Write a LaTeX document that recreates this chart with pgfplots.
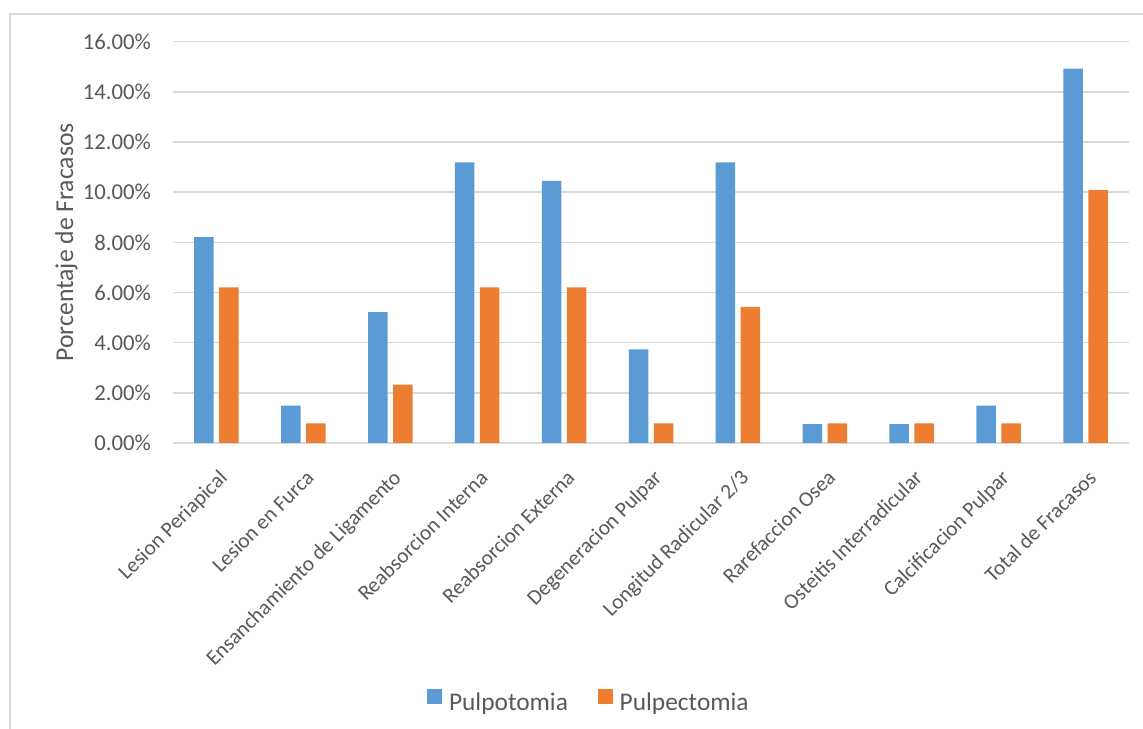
\documentclass[border=0pt]{standalone}
\usepackage{fontspec}
\setmainfont{Carlito}
\usepackage{pgfplots}
\pgfplotsset{compat=1.18}
\definecolor{serA}{HTML}{5B9BD5}
\definecolor{serB}{HTML}{ED7D31}
\definecolor{gridc}{HTML}{D9D9D9}
\definecolor{txt}{HTML}{595959}
\begin{document}
\begin{tikzpicture}
\useasboundingbox (0bp,0bp) rectangle (1143bp,729bp);
\fill[white] (0bp,0bp) rectangle (1143bp,729bp);
\draw[gridc, line width=1.2bp] (10bp,0bp) -- (10bp,715bp) -- (1143bp,715bp);
\begin{axis}[
    at={(173bp,286bp)}, anchor=south west,
    scale only axis, width=956bp, height=401.3bp,
    ybar=5.5bp, bar width=19.5bp,
    xmin=0, xmax=11, ymin=0, ymax=16,
    xtick={0.5,1.5,...,10.5},
    xticklabels={Lesion Periapical, Lesion en Furca, Ensanchamiento de Ligamento,
      Reabsorcion Interna, Reabsorcion Externa, Degeneracion Pulpar,
      Longitud Radicular 2/3, Rarefaccion Osea, Osteitis Interradicular,
      Calcificacion Pulpar, Total de Fracasos},
    ytick={0,2,...,16},
    yticklabel={\pgfmathprintnumber[fixed,fixed zerofill,precision=2]{\tick}\%},
    /pgf/number format/assume math mode=true,
    major tick length=0pt,
    axis line style={draw=none},
    ymajorgrids, grid style={gridc, line width=1.5bp},
    ticklabel style={text=txt},
    yticklabel style={font=\fontsize{22.7bp}{27bp}\selectfont, anchor=east, inner sep=0pt, xshift=-22bp},
    xticklabel style={font=\fontsize{21.3bp}{25bp}\selectfont, rotate=45, anchor=north east,
      inner sep=0pt, xshift=-17bp, yshift=-19bp},
    ylabel={Porcentaje de Fracasos},
    every axis y label/.style={at={(rel axis cs:0,0.5)}, xshift=-100bp, rotate=90, anchor=base,
      font=\fontsize{25.7bp}{30bp}\selectfont, text=txt},
    legend columns=2,
    legend style={at={(rel axis cs:0.4341,-0.6414)}, anchor=center, draw=none, inner sep=0pt,
      font=\fontsize{25.4bp}{30bp}\selectfont, text=txt,
      nodes={inner sep=0pt},
      /tikz/every odd column/.append style={column sep=6.7bp},
      /tikz/every even column/.append style={column sep=30bp}},
    legend image code/.code={\path[#1, draw=none] (0bp,-0.9bp) rectangle (15bp,14.1bp);},
]
\addplot[fill=serA, draw=none] coordinates {
  (0.5,8.21) (1.5,1.49) (2.5,5.22) (3.5,11.19) (4.5,10.45) (5.5,3.73)
  (6.5,11.19) (7.5,0.75) (8.5,0.75) (9.5,1.49) (10.5,14.93)
};
\addplot[fill=serB, draw=none] coordinates {
  (0.5,6.20) (1.5,0.78) (2.5,2.33) (3.5,6.20) (4.5,6.20) (5.5,0.78)
  (6.5,5.43) (7.5,0.78) (8.5,0.78) (9.5,0.78) (10.5,10.08)
};
\legend{Pulpotomia, Pulpectomia}
\end{axis}
\end{tikzpicture}
\end{document}
